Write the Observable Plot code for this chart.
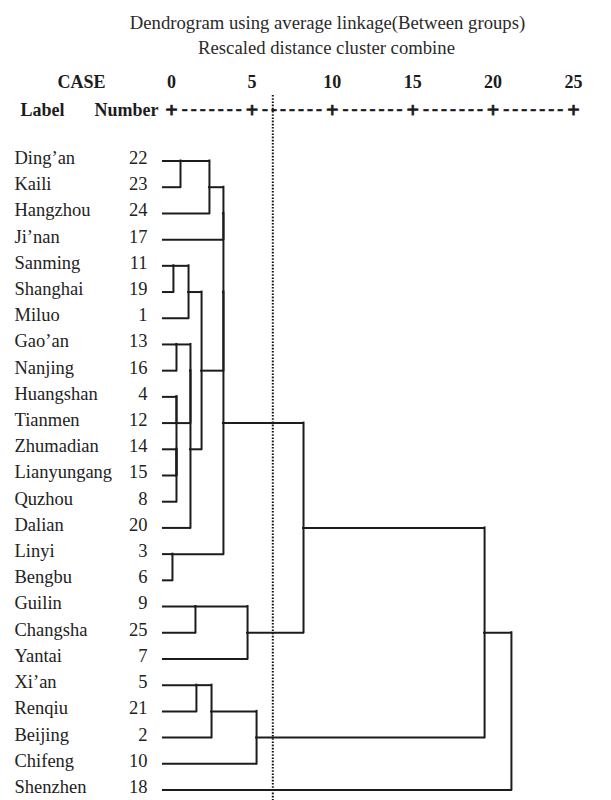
<!DOCTYPE html>
<html>
<head>
<meta charset="utf-8">
<script src="https://cdn.jsdelivr.net/npm/d3@7"></script>
<script src="https://cdn.jsdelivr.net/npm/@observablehq/plot@0.6"></script>
<style>
  html, body { margin: 0; padding: 0; background: #fff; }
</style>
</head>
<body>
<div id="chart"></div>
<script>
// ---- data ----
const titleText = "Dendrogram using average linkage(Between groups)";
const subtitleText = "Rescaled distance cluster combine";

const leafLabels = ["Ding’an","Kaili","Hangzhou","Ji’nan","Sanming","Shanghai","Miluo","Gao’an","Nanjing",
  "Huangshan","Tianmen","Zhumadian","Lianyungang","Quzhou","Dalian","Linyi","Bengbu","Guilin","Changsha",
  "Yantai","Xi’an","Renqiu","Beijing","Chifeng","Shenzhen"];
const caseNumbers = [22,23,24,17,11,19,1,13,16,4,12,14,15,8,20,3,6,9,25,7,5,21,2,10,18];

// agglomeration schedule (m1 ... m24), rescaled distances
const mergeLeft  = ["Linyi","Sanming","Gao’an","Huangshan","Zhumadian","m5","m4","Ding’an","m2","m3","m10",
  "Guilin","Xi’an","m9","m8","m13","m15","m17","m18","m12","m16","m19","m22","m23"];
const mergeRight = ["Bengbu","Shanghai","Nanjing","Tianmen","Lianyungang","Quzhou","m6","Kaili","Miluo","m7",
  "Dalian","Changsha","Renqiu","m11","Hangzhou","Beijing","Ji’nan","m14","m1","Yantai","Chifeng","m20","m21","Shenzhen"];
const mergeDistance = [0.06,0.12,0.31,0.31,0.31,0.31,0.31,0.56,1.06,1.18,1.18,1.49,1.55,1.87,2.36,2.49,
  3.23,3.23,3.23,4.73,5.29,8.21,19.47,21.14];

const axisTicks = [0,5,10,15,20,25];
const cutoffDistance = 6.3;
const leafStart = -0.5;
const dashString = "-------";

// ---- build segments from the schedule ----
const nodes = new Map();
leafLabels.forEach((name, i) => nodes.set(name, {row: i, h: leafStart}));
const horizontals = [];
const verticals = [];
mergeLeft.forEach((a, k) => {
  const A = nodes.get(a), B = nodes.get(mergeRight[k]);
  const h = mergeDistance[k];
  const r1 = Math.min(A.row, B.row), r2 = Math.max(A.row, B.row);
  verticals.push({h, r1, r2});
  horizontals.push({row: A.row, x1: A.h, x2: h});
  horizontals.push({row: B.row, x1: B.h, x2: h});
  nodes.set("m" + (k + 1), {row: Math.floor((A.row + B.row) / 2), h});
});

const leaves = leafLabels.map((name, i) => ({name, num: caseNumbers[i], row: i}));
const dashGaps = axisTicks.slice(1).map((t, i) => (t + axisTicks[i]) / 2);

const serif = "'Liberation Serif', 'Times New Roman', serif";
const ink = "#1c1c1c";

const chart = Plot.plot({
  width: 611,
  height: 800,
  marginLeft: 171,
  marginRight: 38,
  marginTop: 95,
  marginBottom: 0,
  style: {fontFamily: serif, background: "#fff", color: ink},
  x: {domain: [0, 25], axis: null},
  y: {domain: [0, 24], range: [160.5, 789.5], axis: null},
  marks: [
    // titles
    Plot.text([titleText], {frameAnchor: "top-left", lineAnchor: "middle", dx: 156, dy: -72, text: d => d,
      fontSize: 18.7, fill: "#2a2a2a", textAnchor: "middle"}),
    Plot.text([subtitleText], {frameAnchor: "top-left", lineAnchor: "middle", dx: 155, dy: -47, text: d => d,
      fontSize: 18.7, fill: "#2a2a2a", textAnchor: "middle"}),
    // header labels
    Plot.text(["CASE"], {frameAnchor: "top-left", lineAnchor: "middle", dx: -114, dy: -13, text: d => d,
      fontSize: 18, fontWeight: "bold", textAnchor: "start", fill: ink}),
    Plot.text(["Label"], {frameAnchor: "top-left", lineAnchor: "middle", dx: -151, dy: 15, text: d => d,
      fontSize: 18, fontWeight: "bold", textAnchor: "start", fill: ink}),
    Plot.text(["Number"], {frameAnchor: "top-left", lineAnchor: "middle", dx: -77, dy: 15, text: d => d,
      fontSize: 18, fontWeight: "bold", textAnchor: "start", fill: ink}),
    // axis tick labels
    Plot.text(axisTicks, {x: d => d, frameAnchor: "top", lineAnchor: "middle", dy: -13, text: d => String(d),
      fontSize: 18, fontWeight: "bold", fill: ink}),
    // axis "+----+" row
    Plot.text(axisTicks, {x: d => d, frameAnchor: "top", lineAnchor: "middle", dy: 14, text: () => "+",
      fontSize: 22, fontWeight: "bold", fill: ink, stroke: ink, strokeWidth: 0.9}),
    Plot.text(dashGaps, {x: d => d, frameAnchor: "top", lineAnchor: "middle", dy: 14, text: () => dashString,
      fontSize: 18, fontWeight: "bold", fill: ink, stroke: ink, strokeWidth: 0.6}),
    // cutoff dotted line
    Plot.ruleX([cutoffDistance], {stroke: "#111", strokeWidth: 2, strokeDasharray: "1.6,1.6"}),
    // dendrogram
    Plot.ruleY(horizontals, {y: "row", x1: "x1", x2: "x2", stroke: ink, strokeWidth: 2, strokeLinecap: "square"}),
    Plot.ruleX(verticals, {x: "h", y1: "r1", y2: "r2", stroke: ink, strokeWidth: 2, strokeLinecap: "square"}),
    // leaf labels and case numbers
    Plot.text(leaves, {y: "row", text: "name", frameAnchor: "left", dx: -157, dy: -3,
      textAnchor: "start", fontSize: 18.5, fill: "#222"}),
    Plot.text(leaves, {y: "row", text: d => String(d.num), frameAnchor: "left", dx: -24, dy: -3,
      textAnchor: "end", fontSize: 18.5, fill: "#222"})
  ]
});

d3.select(chart).selectAll("text")
  .filter(function() { return this.textContent === dashString; })
  .attr("letter-spacing", "3px")
  .attr("dx", "1.5px");
document.getElementById("chart").appendChild(chart);
</script>
</body>
</html>
